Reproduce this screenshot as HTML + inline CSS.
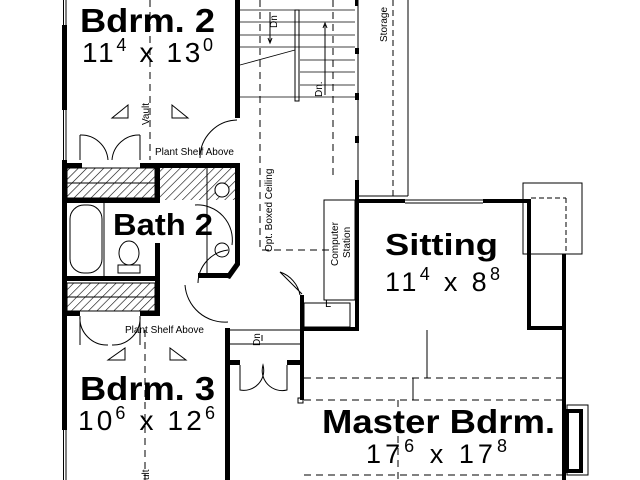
<!DOCTYPE html>
<html><head><style>html,body{margin:0;padding:0;background:#fff}svg{display:block}</style></head>
<body>
<svg width="640" height="480" viewBox="0 0 640 480" xmlns="http://www.w3.org/2000/svg" font-family="Liberation Sans, Arial, sans-serif">
<defs>
<pattern id="h" width="6" height="6" patternUnits="userSpaceOnUse" patternTransform="rotate(45)">
<line x1="0" y1="0" x2="0" y2="6" stroke="#000" stroke-width="1.2"/></pattern>
</defs>
<rect width="640" height="480" fill="#fff"/>
<g fill="#000">
<rect x="62" y="25" width="5" height="85"/>
<rect x="62" y="160" width="5" height="270"/>
<rect x="235" y="0" width="5" height="118"/>
<rect x="62" y="163" width="20" height="5"/>
<rect x="140" y="163" width="60" height="5"/>
<rect x="197" y="163" width="43" height="5"/>
<rect x="62" y="198" width="98" height="5"/>
<rect x="155" y="165" width="5" height="38"/>
<rect x="235" y="163" width="5" height="102"/>
<polygon points="235,263 240,265 230,279 225,277"/>
<rect x="198" y="273" width="30" height="5"/>
<rect x="62" y="276" width="98" height="5"/>
<rect x="155" y="243" width="5" height="38"/>
<rect x="62" y="311" width="18" height="5"/>
<rect x="140" y="311" width="20" height="5"/>
<rect x="155" y="278" width="5" height="38"/>
<rect x="225" y="328" width="5" height="152"/>
<rect x="225" y="360" width="15" height="5"/>
<rect x="287" y="360" width="15" height="5"/>
<rect x="300" y="295" width="4" height="105"/>
<rect x="300" y="327" width="58" height="4"/>
<rect x="355" y="180" width="4" height="151"/>
<rect x="355" y="0" width="3" height="6"/>
<rect x="355" y="48" width="4" height="6"/>
<rect x="355" y="93" width="4" height="7"/>
<rect x="355" y="136" width="4" height="7"/>
<rect x="355" y="199" width="50" height="4"/>
<rect x="483" y="199" width="48" height="4"/>
<rect x="527" y="199" width="4" height="131"/>
<rect x="527" y="326" width="39" height="4"/>
<rect x="562" y="254" width="4" height="226"/>
<rect x="567" y="411" width="14" height="60" fill="none" stroke="#000" stroke-width="4"/>
</g>
<g fill="none" stroke="#000" stroke-width="1">
<line x1="63.5" y1="0" x2="63.5" y2="25"/><line x1="66" y1="0" x2="66" y2="25"/>
<line x1="63.5" y1="110" x2="63.5" y2="160"/><line x1="66" y1="110" x2="66" y2="160"/>
<line x1="63.5" y1="430" x2="63.5" y2="480"/><line x1="66" y1="430" x2="66" y2="480"/>
<g stroke-width="0.8">
<line x1="240" y1="10" x2="355" y2="10"/><line x1="240" y1="22" x2="355" y2="22"/>
<line x1="240" y1="35" x2="355" y2="35"/><line x1="240" y1="47" x2="355" y2="47"/>
<line x1="300" y1="60" x2="355" y2="60"/><line x1="300" y1="72" x2="355" y2="72"/>
<line x1="300" y1="85" x2="355" y2="85"/><line x1="240" y1="97" x2="355" y2="97"/>
<line x1="240" y1="65" x2="295" y2="50"/>
</g>
<rect x="295" y="10" width="4" height="91"/>
<line x1="270" y1="12" x2="270" y2="42"/><path d="M268 38 L270 43 L272 38"/>
<line x1="325" y1="25" x2="325" y2="95"/><path d="M323 28 L325 23 L327 28"/>
<line x1="358" y1="0" x2="358" y2="196"/><line x1="408" y1="0" x2="408" y2="196"/>
<line x1="358" y1="196" x2="408" y2="196"/>
<line x1="393" y1="0" x2="393" y2="196" stroke-dasharray="6,4"/>
<g stroke-dasharray="7,5">
<line x1="150" y1="0" x2="150" y2="160"/>
<line x1="260" y1="0" x2="260" y2="250"/>
<line x1="333" y1="0" x2="333" y2="180"/>
<line x1="262" y1="250" x2="330" y2="250"/>
<line x1="145" y1="330" x2="145" y2="480"/>
<line x1="304" y1="378" x2="562" y2="378"/>
<line x1="304" y1="400" x2="562" y2="400"/>
<line x1="398" y1="400" x2="398" y2="480"/>
<line x1="304" y1="475" x2="562" y2="475"/>
</g>
<line x1="427" y1="330" x2="427" y2="378"/><line x1="413" y1="378" x2="413" y2="400"/>
<rect x="523" y="183" width="59" height="71"/>
<line x1="531" y1="198" x2="566" y2="198" stroke-dasharray="5,3"/>
<line x1="566" y1="198" x2="566" y2="254" stroke-dasharray="5,3"/>
<rect x="567" y="405" width="21" height="70"/>
<line x1="405" y1="200" x2="483" y2="200"/><line x1="405" y1="203" x2="483" y2="203"/>
<rect x="324" y="200" width="31" height="100"/>
<rect x="304" y="303" width="46" height="24"/>
<path d="M237 120 A38 38 0 0 0 200 158"/>
<path d="M80 135 L80 160 M80 135 A27 27 0 0 1 108 160 M140 135 L140 160 M140 135 A27 27 0 0 0 112 160"/>
<path d="M80 316 L80 345 M80 316 A27 27 0 0 0 108 345 M140 316 L140 345 M140 316 A27 27 0 0 1 112 345"/>
<path d="M198 283 A34 34 0 0 1 228 250 M185 285 A40 40 0 0 0 228 322"/>
<path d="M232 245 A35 35 0 0 0 195 205"/>
<path d="M300 295 A30 30 0 0 0 280 272 L302 294"/>
<path d="M240 365 L240 390 A20 20 0 0 0 263 365 A20 20 0 0 0 287 390 L287 365"/>
<line x1="229" y1="330" x2="300" y2="330"/><line x1="229" y1="344" x2="300" y2="344"/>
<line x1="262" y1="335" x2="262" y2="341"/>
<path d="M112 118 L128 118 L128 105 Z M172 118 L188 118 L172 105 Z"/>
<path d="M108 360 L125 360 L125 348 Z M170 360 L186 360 L170 348 Z"/>
<rect x="70" y="205" width="32" height="68" rx="14"/>
<line x1="104" y1="203" x2="104" y2="276"/>
<ellipse cx="129" cy="253" rx="10" ry="12"/><rect x="118" y="265" width="22" height="8"/>
<line x1="207" y1="168" x2="207" y2="275"/>
<circle cx="222" cy="190" r="7"/><circle cx="222" cy="250" r="7"/>
<rect x="298" y="398" width="5" height="5"/>
</g>
<rect x="67" y="168" width="88" height="30" fill="url(#h)" stroke="#000"/>
<rect x="160" y="168" width="75" height="32" fill="url(#h)"/>
<rect x="67" y="283" width="88" height="28" fill="url(#h)" stroke="#000"/>
<circle cx="222" cy="190" r="7" fill="#fff" stroke="#000"/>
<line x1="67" y1="183" x2="155" y2="183" stroke="#000"/>
<line x1="67" y1="297" x2="155" y2="297" stroke="#000"/>
<g fill="#000">
<text x="80" y="32" font-size="33" font-weight="bold" textLength="135" lengthAdjust="spacingAndGlyphs">Bdrm. 2</text>
<text x="82" y="62" font-size="28" textLength="131" lengthAdjust="spacing">11<tspan font-size="18" dy="-11">4</tspan><tspan dy="11"> x 13</tspan><tspan font-size="18" dy="-11">0</tspan></text>
<text x="113" y="235" font-size="31" font-weight="bold" textLength="100" lengthAdjust="spacingAndGlyphs">Bath 2</text>
<text x="80" y="400" font-size="33" font-weight="bold" textLength="135" lengthAdjust="spacingAndGlyphs">Bdrm. 3</text>
<text x="78" y="430" font-size="28" textLength="137" lengthAdjust="spacing">10<tspan font-size="18" dy="-11">6</tspan><tspan dy="11"> x 12</tspan><tspan font-size="18" dy="-11">6</tspan></text>
<text x="385" y="255" font-size="31" font-weight="bold" textLength="113" lengthAdjust="spacingAndGlyphs">Sitting</text>
<text x="385" y="291" font-size="27" textLength="115" lengthAdjust="spacing">11<tspan font-size="18" dy="-11">4</tspan><tspan dy="11"> x 8</tspan><tspan font-size="18" dy="-11">8</tspan></text>
<text x="322" y="433" font-size="33" font-weight="bold" textLength="233" lengthAdjust="spacingAndGlyphs">Master Bdrm.</text>
<text x="366" y="463" font-size="27" textLength="141" lengthAdjust="spacing">17<tspan font-size="18" dy="-11">6</tspan><tspan dy="11"> x 17</tspan><tspan font-size="18" dy="-11">8</tspan></text>
<text x="155" y="155" font-size="10">Plant Shelf Above</text>
<text x="125" y="333" font-size="10">Plant Shelf Above</text>
<text font-size="10" transform="translate(149,125) rotate(-90)">Vault</text>
<text font-size="10" transform="translate(149,480) rotate(-90)">ult</text>
<text font-size="10" transform="translate(272,252) rotate(-90)">Opt. Boxed Ceiling</text>
<text font-size="10" transform="translate(387,42) rotate(-90)">Storage</text>
<text font-size="10" transform="translate(277,28) rotate(-90)">Dn</text>
<text font-size="10" transform="translate(322,97) rotate(-90)">Dn.</text>
<text font-size="10" transform="translate(260,346) rotate(-90)">Dn</text>
<text font-size="10" transform="translate(338,266) rotate(-90)">Computer</text>
<text font-size="10" transform="translate(350,258) rotate(-90)">Station</text>
<text x="325" y="307" font-size="11">L</text>
</g>
</svg>
</body></html>
